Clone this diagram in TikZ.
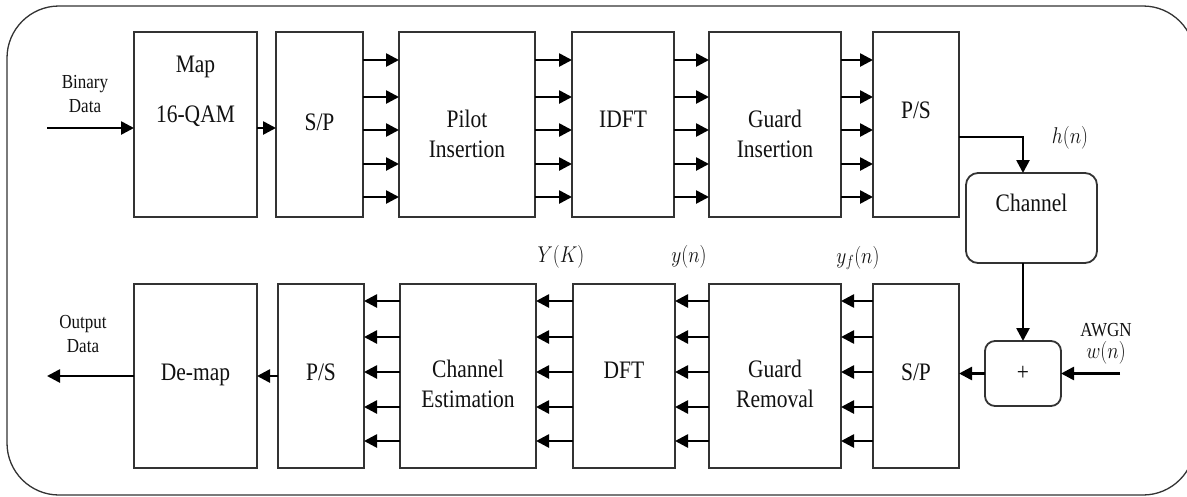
\documentclass[tikz,border=0pt]{standalone}
\usepackage{fix-cm}
\usepackage{fontspec}
\setmainfont{Liberation Serif}
\usetikzlibrary{arrows.meta}
\definecolor{linec}{HTML}{333333}
\definecolor{txtc}{HTML}{111111}
\begin{document}
\begin{tikzpicture}[x=1pt,y=-1pt,
  blk/.style={draw=linec, line width=1.8pt, inner sep=0pt, outer sep=0pt, fill=white},
  rblk/.style={blk, rounded corners=12pt},
  arr/.style={draw=black, line width=2.6pt, -{Triangle[length=13pt,width=13pt]}},
  frame/.style={draw=linec, line width=1.3pt, rounded corners=52pt},
  lab/.style={font=\fontsize{21.5}{26}\selectfont, text=txtc, inner sep=0pt, yscale=1.17},
  small/.style={font=\fontsize{17}{20}\selectfont, text=txtc, inner sep=0pt, yscale=1.17},
  mth/.style={font=\fontsize{19.5}{23}\selectfont, text=txtc, inner sep=0pt, yscale=1.17}]
\useasboundingbox (0,0) rectangle (1187,496);
\clip (0,0) rectangle (1187,496);

% outer frame
\draw[frame] (7,6) rectangle (1195,495);

% transmitter row
\node[blk, minimum width=123pt, minimum height=185pt] (map)  at (195.5,124.5) {};
\node[blk, minimum width=87pt,  minimum height=185pt] (sp1)  at (319.5,124.5) {};
\node[blk, minimum width=136pt, minimum height=185pt] (pil)  at (467,124.5) {};
\node[blk, minimum width=102pt, minimum height=185pt] (idft) at (623,124.5) {};
\node[blk, minimum width=132pt, minimum height=185pt] (gins) at (775,124.5) {};
\node[blk, minimum width=86pt,  minimum height=185pt] (ps1)  at (916,124.5) {};

% channel and noise
\node[rblk, minimum width=131pt, minimum height=90pt] (chan) at (1031.5,218) {};
\node[blk, rounded corners=10pt, minimum width=76pt, minimum height=65pt] (plus) at (1023,373.5) {};

% receiver row
\node[blk, minimum width=123pt, minimum height=184pt] (dmap)  at (195.5,376) {};
\node[blk, minimum width=86pt,  minimum height=184pt] (ps2)   at (321,376) {};
\node[blk, minimum width=136pt, minimum height=184pt] (chest) at (468,376) {};
\node[blk, minimum width=102pt, minimum height=184pt] (dft)   at (624,376) {};
\node[blk, minimum width=132pt, minimum height=184pt] (grem)  at (775,376) {};
\node[blk, minimum width=86pt,  minimum height=184pt] (sp2)   at (916,376) {};

% block texts
\node[lab, anchor=base] (tmap) at (195.5,72) {Map};
\node[lab, anchor=base] (tqam) at (195.5,122) {16-QAM};
\node[lab, anchor=base] (tsp1) at (319.5,130) {S/P};
\node[lab, anchor=base] (tpil1) at (467,127) {Pilot};
\node[lab, anchor=base] (tpil2) at (467,157) {Insertion};
\node[lab, anchor=base] (tidft) at (623,127) {IDFT};
\node[lab, anchor=base] (tgi1) at (775,127) {Guard};
\node[lab, anchor=base] (tgi2) at (775,157) {Insertion};
\node[lab, anchor=base] (tps1) at (916,118) {P/S};
\node[lab, anchor=base] (tchan) at (1031.5,211) {Channel};
\node[lab] (tplus) at (1023,373.5) {+};
\node[lab, anchor=base] (tdm) at (195.5,380) {De-map};
\node[lab, anchor=base] (tps2) at (321,380) {P/S};
\node[lab, anchor=base] (tce1) at (468,377) {Channel};
\node[lab, anchor=base] (tce2) at (468,407) {Estimation};
\node[lab, anchor=base] (tdft) at (624,378) {DFT};
\node[lab, anchor=base] (tgr1) at (775,377) {Guard};
\node[lab, anchor=base] (tgr2) at (775,407) {Removal};
\node[lab, anchor=base] (tsp2) at (916,380) {S/P};

% side labels
\node[small, anchor=base] (tbin1) at (85,88) {Binary};
\node[small, anchor=base] (tbin2) at (85,112) {Data};
\node[small, anchor=base] (tout1) at (83,328) {Output};
\node[small, anchor=base] (tout2) at (83,352) {Data};
\node[small, anchor=base] (tawgn) at (1106,336) {AWGN};

% signal names
\node[mth] (lh)  at (1070,138) {$h(n)$};
\node[mth] (lY)  at (561,257) {$Y(K)$};
\node[mth] (ly)  at (689,257) {$y(n)$};
\node[mth] (lyf) at (858,258) {$y_f(n)$};
\node[mth] (lw)  at (1106,353) {$w(n)$};

% free ends
\coordinate (bin) at (47,128);
\coordinate (out) at (47,376);
\coordinate (awgn) at (1120,373.5);

% serial links
\draw[arr] (bin) -- (map.west |- bin);
\draw[arr] (map.east |- bin) -- (sp1.west |- bin);
\draw[arr] (ps1.east |- 0,137) -| (plus.north |- chan.north);
\draw[arr] (plus.north |- chan.south) -- (plus.north);
\draw[arr] (awgn) -- (plus.east);
\draw[arr] (plus.west) -- (sp2.east |- plus.west);
\draw[arr] (ps2.west) -- (dmap.east);
\draw[arr] (dmap.west) -- (out);

% parallel links, transmitter
\foreach \y in {60,97,130,164,197} {
  \draw[arr] (sp1.east |- 0,\y) -- (pil.west |- 0,\y);
  \draw[arr] (pil.east |- 0,\y) -- (idft.west |- 0,\y);
  \draw[arr] (idft.east |- 0,\y) -- (gins.west |- 0,\y);
  \draw[arr] (gins.east |- 0,\y) -- (ps1.west |- 0,\y);
}
% parallel links, receiver
\foreach \y in {301,337,372,407,441} {
  \draw[arr] (sp2.west |- 0,\y) -- (grem.east |- 0,\y);
  \draw[arr] (grem.west |- 0,\y) -- (dft.east |- 0,\y);
  \draw[arr] (dft.west |- 0,\y) -- (chest.east |- 0,\y);
  \draw[arr] (chest.west |- 0,\y) -- (ps2.east |- 0,\y);
}
\end{tikzpicture}
\end{document}
